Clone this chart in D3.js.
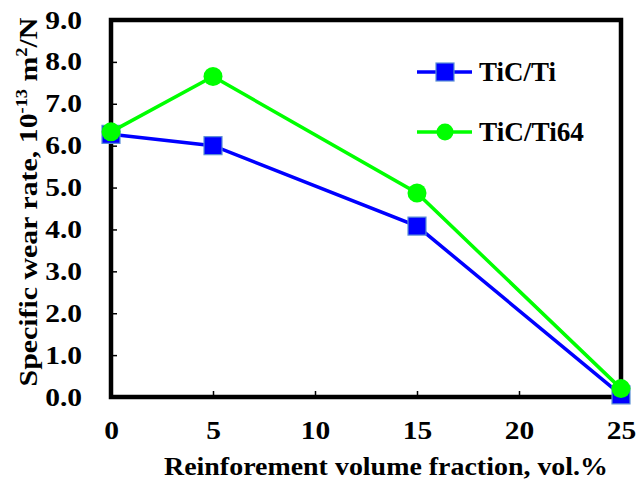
<!DOCTYPE html>
<html>
<head>
<meta charset="utf-8">
<script src="https://cdn.jsdelivr.net/npm/d3@7"></script>
<style>
  body { margin: 0; background: #fff; }
</style>
</head>
<body>
<svg id="chart" width="638" height="481"></svg>
<script>
// --- Data ---
const fractions = [0, 5, 15, 25];
const ticWear = [6.27, 6.0, 4.08, 0.05];
const ti64Wear = [6.33, 7.65, 4.87, 0.2];
const xTicks = [0, 5, 10, 15, 20, 25];
const yTicks = [0, 1, 2, 3, 4, 5, 6, 7, 8, 9];
const seriesNames = ["TiC/Ti", "TiC/Ti64"];

const FONT = '"Liberation Serif"';

// --- Setup ---
const svg = d3.select("#chart");
const x = d3.scaleLinear().domain([0, 25]).range([111, 621]);
const y = d3.scaleLinear().domain([0, 9]).range([397, 20]);

// serif bold text, stretched a bit wider like the original
function styleText(sel, size, stretch) {
  sel.style("font-family", FONT).style("font-weight", "bold")
    .style("font-size", size + "px").attr("fill", "#000");
  if (stretch) {
    sel.each(function() {
      const len = this.getComputedTextLength();
      d3.select(this).attr("textLength", len * stretch).attr("lengthAdjust", "spacingAndGlyphs");
    });
  }
  return sel;
}

// ticks (inward)
svg.append("g").attr("transform", `translate(0,${y(0)})`)
  .call(d3.axisBottom(x).tickValues(xTicks).tickSizeInner(-6).tickSizeOuter(0).tickPadding(24).tickFormat(d3.format("d")))
  .call(g => g.select(".domain").remove())
  .call(g => g.selectAll("line").attr("stroke", "#000").attr("stroke-width", 1.5))
  .call(g => styleText(g.selectAll("text"), 25, 1.18));

svg.append("g").attr("transform", `translate(${x(0)},0)`)
  .call(d3.axisLeft(y).tickValues(yTicks).tickSizeInner(-6).tickSizeOuter(0).tickPadding(29).tickFormat(d3.format(".1f")))
  .call(g => g.select(".domain").remove())
  .call(g => g.selectAll("line").attr("stroke", "#000").attr("stroke-width", 1.5))
  .call(g => styleText(g.selectAll("text"), 25, 1.18));

// frame
svg.append("rect")
  .attr("x", x(0)).attr("y", y(9))
  .attr("width", x(25) - x(0)).attr("height", y(0) - y(9))
  .attr("fill", "none").attr("stroke", "#000").attr("stroke-width", 4.5);

// --- Series ---
const line = d3.line().x(d => x(d[0])).y(d => y(d[1]));
const blueData = fractions.map((f, i) => [f, ticWear[i]]);
const greenData = fractions.map((f, i) => [f, ti64Wear[i]]);

svg.append("path").datum(blueData).attr("d", line)
  .attr("fill", "none").attr("stroke", "#0000ff").attr("stroke-width", 3.5);
svg.selectAll("rect.sq").data(blueData).join("rect").attr("class", "sq")
  .attr("x", d => x(d[0]) - 9).attr("y", d => y(d[1]) - 9)
  .attr("width", 18).attr("height", 18)
  .attr("fill", "#0000ff").attr("stroke", "#5b8fd6").attr("stroke-width", 1.2);

svg.append("path").datum(greenData).attr("d", line)
  .attr("fill", "none").attr("stroke", "#00ff00").attr("stroke-width", 3.5);
svg.selectAll("circle.dot").data(greenData).join("circle").attr("class", "dot")
  .attr("cx", d => x(d[0])).attr("cy", d => y(d[1])).attr("r", 9.5)
  .attr("fill", "#00ff00");

// --- Legend ---
const legend = svg.append("g");
const legendRows = [72, 132];
const legendWidths = [77, 105];
legendRows.forEach((ly, i) => {
  const col = i === 0 ? "#0000ff" : "#00ff00";
  legend.append("line").attr("x1", 417).attr("x2", 472).attr("y1", ly).attr("y2", ly)
    .attr("stroke", col).attr("stroke-width", 3.5);
  if (i === 0) {
    legend.append("rect").attr("x", 436).attr("y", ly - 9).attr("width", 18).attr("height", 18)
      .attr("fill", col).attr("stroke", "#5b8fd6").attr("stroke-width", 1.2);
  } else {
    legend.append("circle").attr("cx", 445).attr("cy", ly).attr("r", 8.5).attr("fill", col);
  }
  const t = legend.append("text").attr("x", 479).attr("y", ly + 9).text(seriesNames[i]);
  styleText(t, 27);
  t.attr("textLength", legendWidths[i]).attr("lengthAdjust", "spacingAndGlyphs");
});

// --- Axis titles ---
const xt = svg.append("text").attr("x", 386).attr("y", 475).attr("text-anchor", "middle")
  .text("Reinforement volume fraction, vol.%");
styleText(xt, 26);
xt.attr("textLength", 444).attr("lengthAdjust", "spacingAndGlyphs");

const ytg = svg.append("g");
const yt = ytg.append("text").attr("text-anchor", "middle");
styleText(yt, 26);
yt.append("tspan").text("Specific wear rate, 10");
yt.append("tspan").attr("dy", -10).style("font-size", "16px").text("-13");
yt.append("tspan").attr("dy", 10).text(" m");
yt.append("tspan").attr("dy", -10).style("font-size", "16px").text("2");
yt.append("tspan").attr("dy", 10).text("/N");
const ytLen = yt.node().getComputedTextLength();
ytg.attr("transform", `translate(37,202) rotate(-90) scale(${369 / ytLen},1)`);
</script>
</body>
</html>
